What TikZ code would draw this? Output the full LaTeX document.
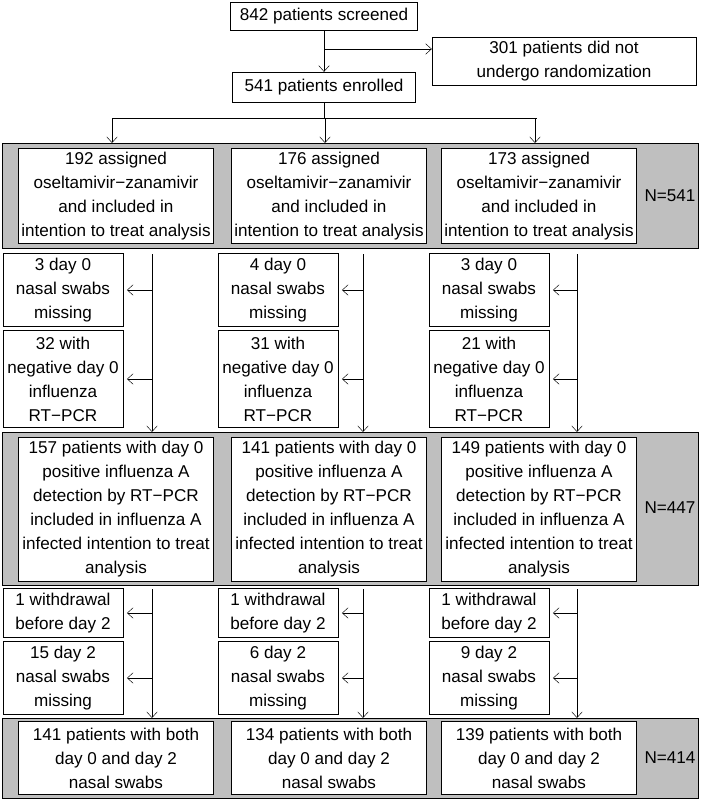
\documentclass[tikz,border=0pt]{standalone}
\usepackage{fontspec}
\setmainfont{Liberation Sans}
\usetikzlibrary{arrows.meta,positioning,calc}
\tikzset{
  box/.style={draw,fill=white,align=center,inner sep=0pt,font=\fontsize{14.6}{20.5}\selectfont},
  band/.style={draw,fill=black!25},
  arr/.style={-{Straight Barb[length=5pt,width=9pt]}},
}
\begin{document}
\begin{tikzpicture}[x=0.03cm,y=-0.03cm]
  \useasboundingbox (0,0) rectangle (701,800);
  % top part
  \node[box,minimum width=188*0.85pt,minimum height=28*0.85pt] (scr) at (324,16) {842 patients screened};
  \node[box,minimum width=265*0.85pt,minimum height=48*0.85pt] (norand) at (564,61) {301 patients did not\\undergo randomization};
  \node[box,minimum width=184*0.85pt,minimum height=30*0.85pt] (enr) at (324,87) {541 patients enrolled};
  \coordinate (br) at (324,49);
  \draw[arr] (scr) -- (enr);
  \draw[arr] (br) -- (norand.west |- br);
  \coordinate (sp) at (324,118);
  \draw (enr) -- (sp);
  \draw (112,118) -- (537,118);

  % bands
  \draw[band] (2,143) rectangle (698,248);
  \draw[band] (2,432) rectangle (698,585);
  \draw[band] (2,718) rectangle (698,798);
  \node[font=\fontsize{14.6}{16}\selectfont] (n1) at (670,196) {N=541};
  \node[font=\fontsize{14.6}{16}\selectfont] (n2) at (670,508) {N=447};
  \node[font=\fontsize{14.6}{16}\selectfont] (n3) at (670,758) {N=414};

  \foreach \i/\cx/\vx/\sx/\na/\nb/\nc/\nd/\ne/\nf/\ng in {
      1/116/152/63/192/3/32/157/15/141/,
      2/329/363/278/176/4/31/141/6/134/,
      3/539/577/489/173/3/21/149/9/139/}{
    \draw[arr] (\cx-4,118) -- (\cx-4,143);
    \node[box,minimum width=196*0.85pt,minimum height=95*0.85pt] (a\i) at (\cx,196)
      {\na{} assigned\\oseltamivir\textminus zanamivir\\and included in\\intention to treat analysis};
    \node[box,minimum width=120*0.85pt,minimum height=73*0.85pt] (m\i) at (\sx,290)
      {\nb{} day 0\\nasal swabs\\missing};
    \node[box,minimum width=120*0.85pt,minimum height=97*0.85pt] (g\i) at (\sx,379)
      {\nc{} with\\negative day 0\\influenza\\RT\textminus PCR};
    \node[box,minimum width=196*0.85pt,minimum height=145*0.85pt] (p\i) at (\cx,509)
      {\nd{} patients with day 0\\positive influenza A\\detection by RT\textminus PCR\\included in influenza A\\infected intention to treat\\analysis};
    \node[box,minimum width=120*0.85pt,minimum height=49*0.85pt] (w\i) at (\sx,613)
      {1 withdrawal\\before day 2};
    \node[box,minimum width=120*0.85pt,minimum height=73*0.85pt] (s\i) at (\sx,678)
      {\ne{} day 2\\nasal swabs\\missing};
    \node[box,minimum width=196*0.85pt,minimum height=73*0.85pt] (b\i) at (\cx,758)
      {\nf{} patients with both\\day 0 and day 2\\nasal swabs};
    % flow lines
    \coordinate (t\i) at (\vx,254);
    \coordinate (u\i) at (\vx,432);
    \coordinate (v\i) at (\vx,589);
    \coordinate (x\i) at (\vx,718);
    \draw[arr] (t\i) -- (u\i);
    \draw[arr] (v\i) -- (x\i);
    \draw[arr] (m\i.center -| t\i) -- ([xshift=4*0.85pt]m\i.east);
    \draw[arr] (g\i.center -| t\i) -- ([xshift=4*0.85pt]g\i.east);
    \draw[arr] (w\i.center -| t\i) -- ([xshift=4*0.85pt]w\i.east);
    \draw[arr] (s\i.center -| t\i) -- ([xshift=4*0.85pt]s\i.east);
  }
\end{tikzpicture}
\end{document}
